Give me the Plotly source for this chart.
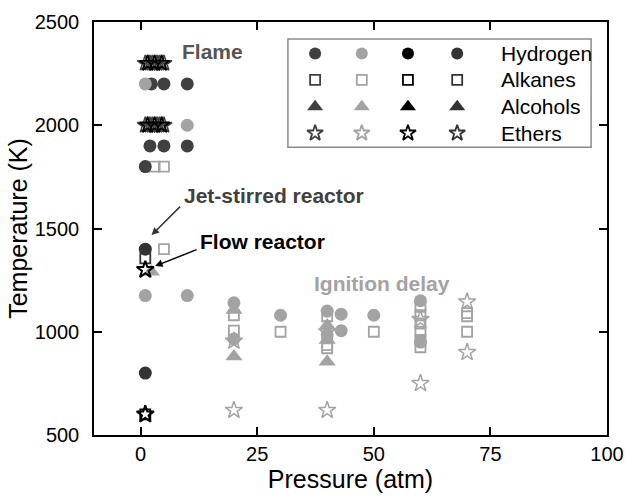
import plotly.graph_objects as go

# ---- colours per measurement technique ----
FLAME = "#404040"
IGNITION = "#a3a3a3"
FLOW = "#000000"
JSR = "#333333"

# ---- data: pressure (atm) and temperature (K) ----
# Flame
h_flame_p = [2.3, 5, 10, 2, 5, 10, 1]
h_flame_T = [2200, 2200, 2200, 1900, 1900, 1900, 1800]
e_flame_p = [1, 2, 3, 4, 5, 1.5, 2.5, 3.5, 4.5, 1, 2, 3, 4, 5, 1.5, 2.5, 3.5, 4.5]
e_flame_T = [2300, 2300, 2300, 2300, 2300, 2300, 2300, 2300, 2300,
             2000, 2000, 2000, 2000, 2000, 2000, 2000, 2000, 2000]
e_flame_blk_p = [1.5, 3, 4.5, 1.5, 3, 4.5]
e_flame_blk_T = [2300, 2300, 2300, 2000, 2000, 2000]

# Ignition delay
h_ign_p = [1, 10, 1, 10, 20, 20, 30, 40, 40, 43, 43, 50, 60, 60]
h_ign_T = [2200, 2000, 1175, 1175, 1140, 965, 1080, 1100, 985, 1085, 1005, 1080, 1150, 950]
a_ign_p = [3, 5, 5, 20, 20, 30, 40, 40, 40, 50, 60, 60, 60, 60, 60, 60, 70, 70, 70]
a_ign_T = [1800, 1800, 1400, 1080, 1005, 1000, 1075, 935, 920, 1000,
           1120, 1080, 1040, 1000, 960, 925, 1090, 1075, 1000]
al_ign_p = [2.3, 20, 20, 40, 40, 40]
al_ign_T = [1290, 1105, 880, 1030, 960, 855]
e_ign_p = [20, 20, 40, 40, 60, 60, 70, 70]
e_ign_T = [955, 620, 1000, 620, 1060, 750, 1145, 900]

# Jet-stirred reactor
h_jsr_p = [1, 1]
h_jsr_T = [1400, 800]
a_jsr_p = [1]
a_jsr_T = [1355]

# Flow reactor
a_flow_p = [1]
a_flow_T = [600]
e_flow_p = [1, 1]
e_flow_T = [1300, 600]

# ---- legend grid ----
legend_names = ["Hydrogen", "Alkanes", "Alcohols", "Ethers"]
legend_symbols = ["circle", "square-open", "triangle-up", "star-open"]
legend_sizes = [12, 10, 14, 12]
legend_colors = [FLAME, IGNITION, FLOW, JSR]
legend_cols = [0.431, 0.522, 0.612, 0.708]
legend_rows = [0.924, 0.860, 0.795, 0.731]
legend_text_x = 0.79

fig = go.Figure()


def add(px, py, symbol, color, size, lw=1.6, xa="x", ya="y"):
    open_sym = symbol.endswith("-open")
    fig.add_trace(go.Scatter(
        x=px, y=py, mode="markers", showlegend=False, hoverinfo="skip",
        xaxis=xa, yaxis=ya,
        marker=dict(symbol=symbol, size=size, color=color,
                    line=dict(color=color, width=lw if open_sym else 0)),
    ))


# ignition delay (light grey)
add(a_ign_p, a_ign_T, "square-open", IGNITION, 10, 1.8)
add(al_ign_p, al_ign_T, "triangle-up", IGNITION, 15)
add(h_ign_p[1:], h_ign_T[1:], "circle", IGNITION, 13)
add(e_ign_p, e_ign_T, "star-open", IGNITION, 13, 1.5)

# flame (dark grey)
add(h_flame_p, h_flame_T, "circle", FLAME, 13)
add(h_ign_p[:1], h_ign_T[:1], "circle", IGNITION, 13)
add(e_flame_p, e_flame_T, "star-open", FLAME, 12, 1.6)
add(e_flame_blk_p, e_flame_blk_T, "star-open", FLOW, 12, 1.6)

# jet-stirred reactor
add(h_jsr_p, h_jsr_T, "circle", JSR, 13)
add(a_jsr_p, a_jsr_T, "square-open", JSR, 10, 1.8)

# flow reactor
add(a_flow_p, a_flow_T, "square-open", FLOW, 10, 1.8)
add(e_flow_p, e_flow_T, "star-open", FLOW, 13, 2)

# legend markers on an overlay axis spanning the plot area
for r, (sym, sz) in enumerate(zip(legend_symbols, legend_sizes)):
    for c, col in enumerate(legend_colors):
        add([legend_cols[c]], [legend_rows[r]], sym, col, sz, 1.8, "x2", "y2")

annotations = []
for r, name in enumerate(legend_names):
    annotations.append(dict(
        x=legend_text_x, y=legend_rows[r], xref="x2", yref="y2",
        text=name, showarrow=False, xanchor="left", yanchor="middle",
        font=dict(size=21, color="black")))

bold = dict(family="Liberation Sans, Arial, sans-serif", size=21)
annotations += [
    dict(x=8.4, y=2355, text="<b>Flame</b>", showarrow=False, xanchor="left",
         yanchor="middle", font=dict(bold, color="#555555")),
    dict(x=8.8, y=1662, text="<b>Jet-stirred reactor</b>", showarrow=False,
         xanchor="left", yanchor="middle", font=dict(bold, color="#404040")),
    dict(x=12.3, y=1437, text="<b>Flow reactor</b>", showarrow=False,
         xanchor="left", yanchor="middle", font=dict(bold, color="#000000")),
    dict(x=36.7, y=1234, text="<b>Ignition delay</b>", showarrow=False,
         xanchor="left", yanchor="middle", font=dict(bold, color="#a3a3a3")),
    # arrows
    dict(x=2.35, y=1468, ax=30, ay=-30, text="", showarrow=True,
         arrowhead=2, arrowsize=1, arrowwidth=1.5, arrowcolor="#333333"),
    dict(x=3.1, y=1318, ax=43, ay=-17, text="", showarrow=True,
         arrowhead=2, arrowsize=1, arrowwidth=1.5, arrowcolor="#000000"),
]

axis_common = dict(
    showline=True, linecolor="black", linewidth=1.5, mirror="ticks",
    ticks="inside", ticklen=8, tickwidth=1.5, tickcolor="black",
    showgrid=False, zeroline=False, automargin=False,
    tickfont=dict(size=20, color="black"),
)

fig.update_layout(
    width=625, height=496,
    margin=dict(l=94, r=18, t=22, b=61),
    paper_bgcolor="white", plot_bgcolor="white",
    font=dict(family="Liberation Sans, Arial, sans-serif", color="black"),
    xaxis=dict(axis_common, range=[-10, 100], tickvals=[0, 25, 50, 75, 100],
               ticklabelstandoff=0,
               title=dict(text="Pressure (atm)", font=dict(size=25), standoff=4)),
    yaxis=dict(axis_common, range=[500, 2500], tickvals=[500, 1000, 1500, 2000, 2500],
               ticklabelstandoff=9,
               title=dict(text="Temperature (K)", font=dict(size=25), standoff=0)),
    xaxis2=dict(overlaying="x", range=[0, 1], visible=False),
    yaxis2=dict(overlaying="y", range=[0, 1], visible=False),
    annotations=annotations,
    shapes=[dict(type="rect", xref="paper", yref="paper",
                 x0=0.378, x1=0.969, y0=0.697, y1=0.959,
                 line=dict(color="#8a8a8a", width=1.5))],
)

fig.write_html("out.html")
